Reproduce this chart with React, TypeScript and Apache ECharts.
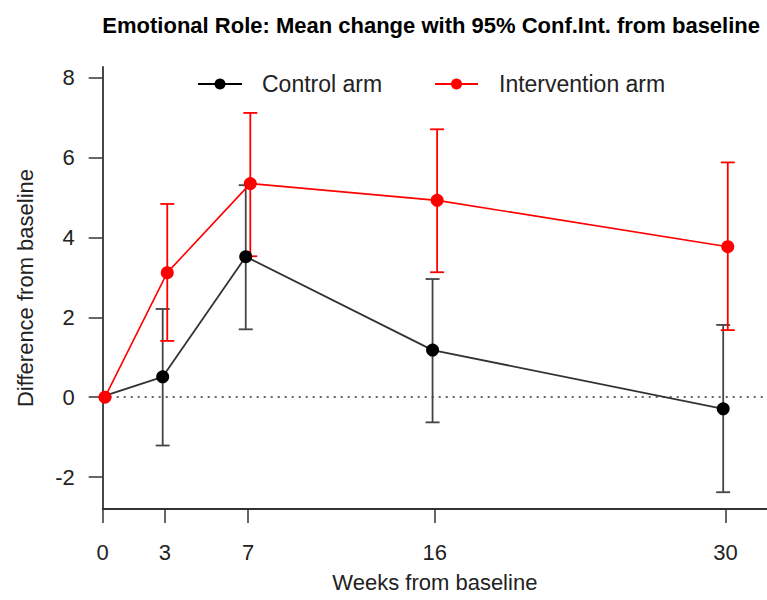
import React, { useEffect, useRef } from "react";
import * as echarts from "echarts";

const weeks = [0, 3, 7, 16, 30];
const controlMean = [0, 0.51, 3.52, 1.18, -0.29];
const controlLower = [0, -1.21, 1.7, -0.63, -2.38];
const controlUpper = [0, 2.21, 5.31, 2.96, 1.81];
const interventionMean = [0, 3.12, 5.35, 4.93, 3.77];
const interventionLower = [0, 1.41, 3.53, 3.13, 1.68];
const interventionUpper = [0, 4.84, 7.12, 6.71, 5.88];
const yTicks = [-2, 0, 2, 4, 6, 8];
const title = "Emotional Role: Mean change with 95% Conf.Int. from baseline";
const seriesNames = ["Control arm", "Intervention arm"];

const FONT = "Liberation Sans, Arial, sans-serif";
const BLACK = "#000000";
const BLACK_LINE = "#333333";
const RED = "#ff0000";
const DODGE = 0.11;

function errorSeries(name: string, lower: number[], upper: number[], offset: number, color: string) {
  return {
    type: "custom",
    name: name + " CI",
    silent: true,
    z: 2,
    data: weeks.map((w, i) => [w + offset, lower[i], upper[i]]),
    renderItem: (params: any, api: any) => {
      const x = api.value(0);
      const lo = api.value(1);
      const hi = api.value(2);
      if (lo === hi) return { type: "group", children: [] };
      const a = api.coord([x, lo]);
      const b = api.coord([x, hi]);
      const hw = 7;
      const style = { stroke: color, lineWidth: 1.8 };
      return {
        type: "group",
        children: [
          { type: "line", shape: { x1: a[0], y1: a[1], x2: b[0], y2: b[1] }, style },
          { type: "line", shape: { x1: a[0] - hw, y1: a[1], x2: a[0] + hw, y2: a[1] }, style },
          { type: "line", shape: { x1: b[0] - hw, y1: b[1], x2: b[0] + hw, y2: b[1] }, style },
        ],
      };
    },
  };
}

export default function App() {
  const ref = useRef<HTMLDivElement>(null);
  useEffect(() => {
    if (!ref.current) return;
    const chart = echarts.init(ref.current, undefined, { renderer: "svg" });
    const legendY = 84;
    const option: any = {
      animation: false,
      backgroundColor: "#ffffff",
      textStyle: { fontFamily: FONT },
      title: {
        text: title,
        right: 2,
        top: 9,
        textStyle: { fontFamily: FONT, fontWeight: "bold", fontSize: 22, color: "#000" },
      },
      grid: { left: 102.7, right: 0, top: 67, bottom: 91, containLabel: false },
      xAxis: {
        type: "value",
        min: 0,
        max: 32,
        name: "Weeks from baseline",
        nameLocation: "middle",
        nameGap: 62,
        nameTextStyle: { fontFamily: FONT, fontSize: 22, color: "#222" },
        axisLine: { show: true, onZero: false, lineStyle: { color: "#333", width: 1.8 } },
        axisTick: { show: true, length: 14, lineStyle: { color: "#333", width: 1.5 }, customValues: weeks },
        axisLabel: { fontFamily: FONT, fontSize: 22, color: "#222", margin: 32, customValues: weeks },
        splitLine: { show: false },
      },
      yAxis: {
        type: "value",
        min: -2.8,
        max: 8.27,
        name: "Difference from baseline",
        nameLocation: "middle",
        nameGap: 66,
        nameTextStyle: { fontFamily: FONT, fontSize: 22, color: "#222" },
        axisLine: { show: true, onZero: false, lineStyle: { color: "#333", width: 1.8 } },
        axisTick: { show: true, length: 14, lineStyle: { color: "#333", width: 1.5 }, customValues: yTicks },
        axisLabel: { fontFamily: FONT, fontSize: 22, color: "#222", margin: 28, customValues: yTicks },
        splitLine: { show: false },
      },
      series: [
        errorSeries(seriesNames[0], controlLower, controlUpper, -DODGE, "#444444"),
        errorSeries(seriesNames[1], interventionLower, interventionUpper, DODGE, RED),
        {
          type: "line",
          name: seriesNames[0],
          z: 3,
          data: weeks.map((w, i) => [w - DODGE, controlMean[i]]),
          symbol: "circle",
          symbolSize: 13,
          lineStyle: { color: BLACK_LINE, width: 1.8 },
          itemStyle: { color: BLACK },
          markLine: {
            silent: true,
            symbol: "none",
            label: { show: false },
            lineStyle: { color: "#666", width: 2, type: [2, 5] },
            data: [{ yAxis: 0 }],
            z: 1,
          },
        },
        {
          type: "line",
          name: seriesNames[1],
          z: 4,
          data: weeks.map((w, i) => [w + DODGE, interventionMean[i]]),
          symbol: "circle",
          symbolSize: 13,
          lineStyle: { color: RED, width: 1.6 },
          itemStyle: { color: RED },
        },
      ],
      graphic: [
        { type: "line", shape: { x1: 198, y1: legendY, x2: 242, y2: legendY }, style: { stroke: BLACK, lineWidth: 2 } },
        { type: "circle", shape: { cx: 220, cy: legendY, r: 5.5 }, style: { fill: BLACK } },
        {
          type: "text",
          x: 262,
          y: legendY,
          style: { text: seriesNames[0], font: `23px ${FONT}`, fill: "#222", textVerticalAlign: "middle", verticalAlign: "middle" },
        },
        { type: "line", shape: { x1: 435, y1: legendY, x2: 478, y2: legendY }, style: { stroke: RED, lineWidth: 2 } },
        { type: "circle", shape: { cx: 456.5, cy: legendY, r: 5.5 }, style: { fill: RED } },
        {
          type: "text",
          x: 499,
          y: legendY,
          style: { text: seriesNames[1], font: `23px ${FONT}`, fill: "#222", textVerticalAlign: "middle", verticalAlign: "middle" },
        },
      ],
    };
    chart.setOption(option);
    return () => chart.dispose();
  }, []);
  return <div ref={ref} style={{ width: 767, height: 600, position: "absolute", left: 0, top: 0 }} />;
}
